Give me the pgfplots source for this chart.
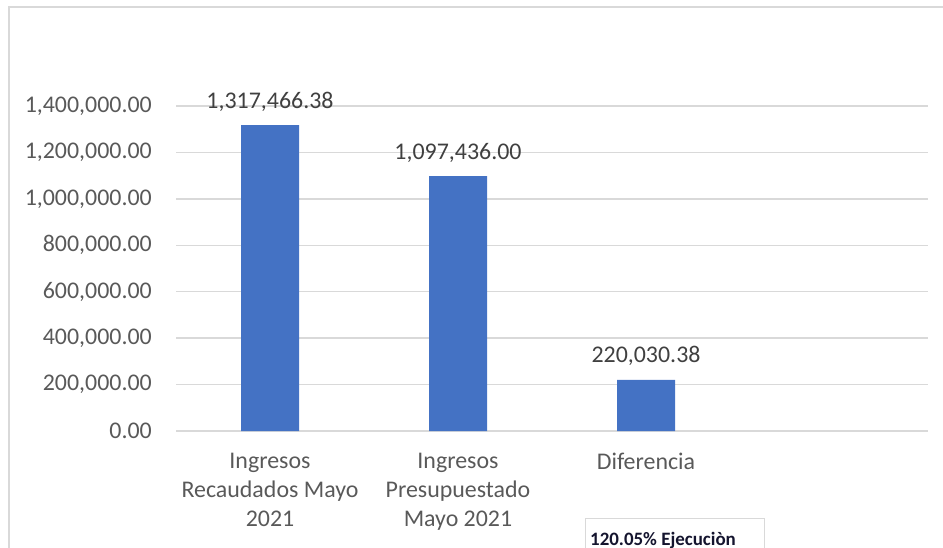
\documentclass[border=0pt]{standalone}
\usepackage{pgfplots}
\pgfplotsset{compat=1.18}
\usepackage{fontspec}
\setmainfont{Carlito}
\definecolor{barblue}{HTML}{4472C4}
\definecolor{gridgray}{HTML}{D9D9D9}
\definecolor{labgray}{HTML}{595959}
\definecolor{datagray}{HTML}{404040}
\definecolor{boxtext}{HTML}{14142E}
\newcommand{\chartfont}{\fontsize{24}{29}\selectfont}

\begin{document}
\begin{tikzpicture}
\useasboundingbox (0,0) rectangle (943bp,-548bp);
% marco del grafico
\draw[gridgray, line width=2bp] (9bp,-560bp) -- (9bp,-7bp) -- (950bp,-7bp);
\begin{axis}[
  at={(176bp,-431bp)}, anchor=south west,
  width=752bp, height=325bp, scale only axis,
  ymin=0, ymax=1400000,
  xmin=-0.5, xmax=3.5,
  scaled y ticks=false,
  ytick={0,200000,400000,600000,800000,1000000,1200000,1400000},
  yticklabel style={/pgf/number format/.cd, fixed, fixed zerofill, precision=2,
    1000 sep={,}, assume math mode=true, /tikz/.cd,
    font=\chartfont, text=labgray, anchor=east, inner sep=0pt, xshift=-24bp},
  xtick={0,1,2},
  xticklabels={{Ingresos\\Recaudados Mayo\\2021},{Ingresos\\Presupuestado\\Mayo 2021},{Diferencia}},
  ymajorgrids, grid style={gridgray, line width=1.5bp},
  axis line style={draw=none}, tick style={draw=none},
  major tick length=0pt,
  xticklabel style={font=\chartfont, text=labgray, align=center, anchor=north, inner sep=0pt, yshift=-22bp},
  clip=false,
]
\addplot[ybar, bar width=58bp, fill=barblue, draw=none,
  point meta=explicit symbolic,
  nodes near coords,
  every node near coord/.append style={font=\chartfont, text=datagray, anchor=base, inner sep=0pt, yshift=17bp}]
  coordinates {(0,1317466.38) [1,317,466.38] (1,1097436.00) [1,097,436.00] (2,220030.38) [220,030.38]};
\end{axis}
% recuadro de ejecucion
\draw[gridgray, line width=1bp] (585bp,-560bp) rectangle (764bp,-518bp);
\node[anchor=base west, inner sep=0pt, text=boxtext] at (590bp,-545bp)
  {\fontsize{19}{22}\selectfont\bfseries 120.05\% Ejecuciòn};
\end{tikzpicture}
\end{document}
